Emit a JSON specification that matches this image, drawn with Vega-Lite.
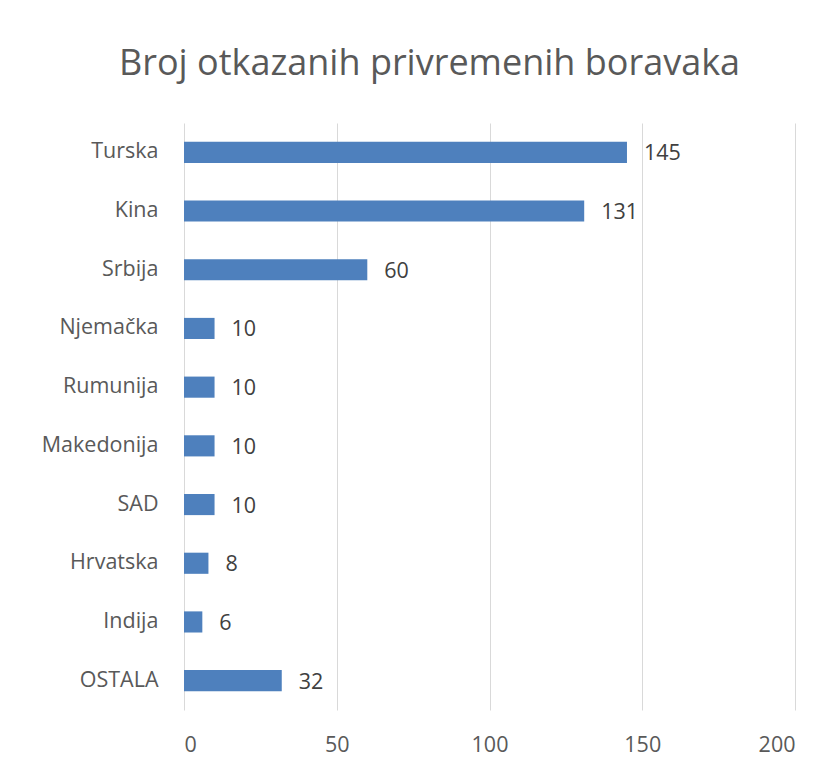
{
  "$schema": "https://vega.github.io/schema/vega-lite/v6.json",
  "width": 611,
  "height": 587,
  "autosize": "none",
  "padding": {"left": 184, "top": 123, "right": 38, "bottom": 61},
  "background": "white",
  "config": {"view": {"stroke": null}, "font": "Open Sans"},
  "title": {
    "text": "Broj otkazanih privremenih boravaka",
    "fontSize": 36,
    "font": "Open Sans",
    "fontWeight": "normal",
    "color": "#595959",
    "anchor": "middle",
    "dx": -60,
    "offset": 40
  },
  "data": {
    "values": [
      {"zemlja": "Turska", "broj": 145},
      {"zemlja": "Kina", "broj": 131},
      {"zemlja": "Srbija", "broj": 60},
      {"zemlja": "Njemačka", "broj": 10},
      {"zemlja": "Rumunija", "broj": 10},
      {"zemlja": "Makedonija", "broj": 10},
      {"zemlja": "SAD", "broj": 10},
      {"zemlja": "Hrvatska", "broj": 8},
      {"zemlja": "Indija", "broj": 6},
      {"zemlja": "OSTALA", "broj": 32}
    ]
  },
  "encoding": {
    "y": {
      "field": "zemlja",
      "type": "nominal",
      "sort": null,
      "scale": {"paddingInner": 0.64, "paddingOuter": 0.32},
      "axis": {
        "title": null,
        "ticks": false,
        "domain": false,
        "labelFontSize": 21.5,
        "labelColor": "#595959",
        "labelPadding": 26
      }
    },
    "x": {
      "field": "broj",
      "type": "quantitative",
      "scale": {"domain": [0, 200]},
      "axis": {
        "title": null,
        "values": [0, 50, 100, 150, 200],
        "ticks": false,
        "domain": false,
        "grid": true,
        "gridColor": "#d9d9d9",
        "labelFontSize": 21.5,
        "labelColor": "#595959",
        "labelPadding": 24
      }
    }
  },
  "layer": [
    {"mark": {"type": "bar", "color": "#4e80bd"}},
    {
      "mark": {"type": "text", "align": "left", "dx": 17, "dy": 2, "fontSize": 21.5, "color": "#404040"},
      "encoding": {"text": {"field": "broj", "type": "quantitative"}}
    }
  ]
}
